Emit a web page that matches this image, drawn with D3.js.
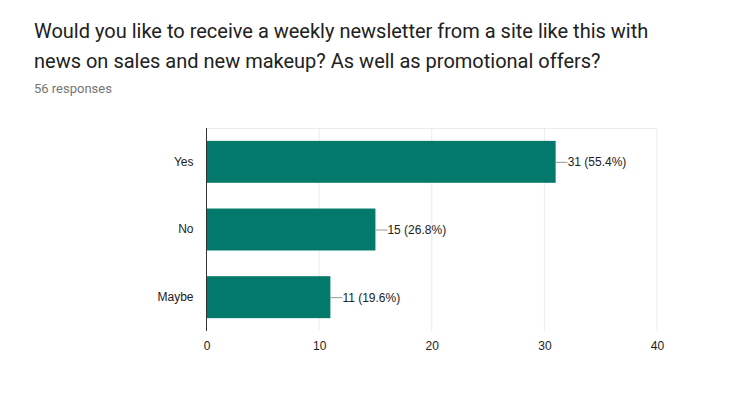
<!DOCTYPE html>
<html><head><meta charset="utf-8">
<script src="https://cdn.jsdelivr.net/npm/d3@7"></script>
<style>body{margin:0;background:#fff;} svg{display:block;}</style>
</head><body>
<script>
const categories = ["Yes", "No", "Maybe"];
const counts = [31, 15, 11];
const percents = ["55.4%", "26.8%", "19.6%"];
const xTicks = [0, 10, 20, 30, 40];
const titleLines = ["Would you like to receive a weekly newsletter from a site like this with", "news on sales and new makeup? As well as promotional offers?"];
const subtitle = "56 responses";

(function () {
const W = 755, H = 418;
const svg = d3.select("body").append("svg").attr("width", W).attr("height", H);

svg.append("g").selectAll("text").data(titleLines).join("text")
  .attr("x", 34).attr("y", (d, i) => 38 + i * 30)
  .attr("font-family", "Roboto, sans-serif").attr("font-size", 20)
  .attr("fill", "#212121").text(d => d);
svg.append("text").attr("x", 34).attr("y", 93)
  .attr("font-family", "Roboto, sans-serif").attr("font-size", 13)
  .attr("fill", "#757575").text(subtitle);

const pL = 206.5, pR = 657, pT = 128, pB = 331;
const x = d3.scaleLinear().domain([0, 40]).range([pL, pR]);
const y = d3.scaleBand().domain(categories).range([pT, pB]).paddingInner(0.38).paddingOuter(0.19);

const g = svg.append("g");
g.selectAll("line.grid").data(xTicks).join("line")
  .attr("x1", d => x(d)).attr("x2", d => x(d)).attr("y1", pT).attr("y2", pB)
  .attr("stroke", "#ebebeb").attr("stroke-width", 1);
g.append("line").attr("x1", pL).attr("x2", pR).attr("y1", pT + 0.5).attr("y2", pT + 0.5)
  .attr("stroke", "#ebebeb");

g.selectAll("rect").data(categories).join("rect")
  .attr("x", x(0)).attr("y", d => y(d))
  .attr("width", (d, i) => x(counts[i]) - x(0)).attr("height", y.bandwidth())
  .attr("fill", "#03796b");

g.append("line").attr("x1", x(0)).attr("x2", x(0)).attr("y1", pT).attr("y2", pB)
  .attr("stroke", "#333").attr("stroke-width", 1);

categories.forEach((c, i) => {
  const cy = y(c) + y.bandwidth() / 2;
  g.append("line").attr("x1", x(counts[i])).attr("x2", x(counts[i]) + 12)
    .attr("y1", cy + 0.5).attr("y2", cy + 0.5).attr("stroke", "#999");
  g.append("text").attr("x", x(counts[i]) + 12).attr("y", cy + 4.5)
    .attr("font-family", "Liberation Sans, Arial, sans-serif").attr("font-size", 12)
    .attr("fill", "#222").text(`${counts[i]} (${percents[i]})`);
});

const xAxis = d3.axisBottom(x).tickValues(xTicks).tickSize(0).tickPadding(10);
const xg = svg.append("g").attr("transform", `translate(0,${pB})`).call(xAxis);
xg.select(".domain").remove();
xg.selectAll("text").attr("font-family", "Liberation Sans, Arial, sans-serif").attr("font-size", 12).attr("fill", "#222");

const yAxis = d3.axisLeft(y).tickSize(0).tickPadding(13);
const yg = svg.append("g").attr("transform", `translate(${pL},0)`).call(yAxis);
yg.select(".domain").remove();
yg.selectAll("text").attr("font-family", "Liberation Sans, Arial, sans-serif").attr("font-size", 12).attr("fill", "#222");
})();
</script>
</body></html>
